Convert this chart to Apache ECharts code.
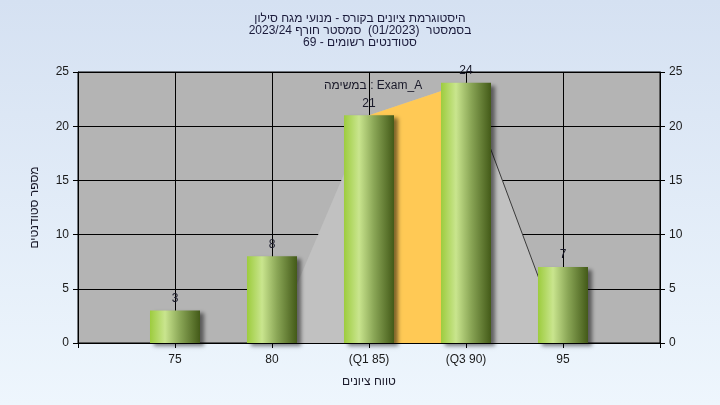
<!DOCTYPE html>
<html>
<head>
<meta charset="utf-8">
<script src="https://cdn.jsdelivr.net/npm/echarts@6/dist/echarts.min.js"></script>
<style>
html,body{margin:0;padding:0;}
#c{width:720px;height:405px;background:linear-gradient(#d5e1f2,#eef6fd);}
</style>
</head>
<body>
<div id="c"></div>
<script>
var titleLines = ['היסטוגרמת ציונים בקורס - מנועי מגח סילון', 'בסמסטר  (01/2023)  סמסטר חורף 2023/24', 'סטודנטים רשומים - 69'];
var legendText = 'במשימה : Exam_A';
var tickValues = [75, 80, 85, 90, 95];
var tickLabels = ['75', '80', '(Q1 85)', '(Q3 90)', '95'];
var counts = [3, 8, 21, 24, 7];
var outlineX = [80, 85, 90, 95];
var outlineY = [0, 21, 24, 0];
var iqrX = [85, 90];
var iqrY = [21, 24];
var yAxisName = 'מספר סטודנטים';
var xAxisName = 'טווח ציונים';

var FONT = 'Arial, "Liberation Sans", sans-serif';
var chart = echarts.init(document.getElementById('c'));

var barData = tickValues.map(function (v, i) { return [v, counts[i]]; });
var outline = outlineX.map(function (v, i) { return [v, outlineY[i]]; });
var iqr = iqrX.map(function (v, i) { return [v, iqrY[i]]; });

function yAxis(pos) {
  return {
    type: 'value', position: pos, min: 0, max: 25, interval: 5,
    axisLine: { show: true, lineStyle: { color: '#000' } },
    axisTick: { show: true, length: 5, lineStyle: { color: '#000' } },
    axisLabel: { color: '#1a1a1a', fontSize: 12, fontFamily: FONT, margin: 9 },
    splitLine: { show: pos === 'left', lineStyle: { color: '#000', width: 1 } },
    name: pos === 'left' ? yAxisName : '',
    nameLocation: 'middle', nameRotate: 90, nameGap: 37,
    nameTextStyle: { color: '#1a1a2a', fontSize: 12, fontFamily: FONT }
  };
}

chart.setOption({
  backgroundColor: 'transparent',
  animation: false,
  title: {
    text: titleLines.join('\n'),
    left: 'center', top: 8,
    textStyle: { color: '#1a1a3a', fontSize: 12, fontWeight: 'normal', fontFamily: FONT, lineHeight: 12 }
  },
  grid: { left: 78, right: 60, top: 72, bottom: 62, show: true, backgroundColor: '#b4b4b4', borderColor: '#000', borderWidth: 1 },
  xAxis: {
    type: 'value', min: 70, max: 100, interval: 5,
    axisLine: { show: true, onZero: false, lineStyle: { color: '#000' } },
    axisTick: { show: true, length: 5, lineStyle: { color: '#000' } },
    axisLabel: {
      color: '#1a1a1a', fontSize: 12, fontFamily: FONT, margin: 11,
      showMinLabel: true, showMaxLabel: true,
      formatter: function (v) { var i = tickValues.indexOf(v); return i >= 0 ? tickLabels[i] : ''; }
    },
    splitLine: { show: true, lineStyle: { color: '#000', width: 1 } },
    name: xAxisName, nameLocation: 'middle', nameGap: 33,
    nameTextStyle: { color: '#1a1a2a', fontSize: 12, fontFamily: FONT }
  },
  yAxis: [yAxis('left'), yAxis('right')],
  graphic: [{
    type: 'text', left: 324, top: 80,
    style: { text: legendText, fill: '#1a1a2a', font: '12px ' + FONT }
  }],
  series: [
    {
      type: 'line', data: outline, symbol: 'none', z: 2,
      lineStyle: { width: 0 }, areaStyle: { color: '#c1c1c1', opacity: 1 }
    },
    {
      type: 'line', data: iqr, symbol: 'none', z: 2,
      lineStyle: { width: 0 }, areaStyle: { color: '#ffc955', opacity: 1 }
    },
    {
      type: 'line', data: outline.slice(2), symbol: 'none', z: 2,
      lineStyle: { width: 1, color: '#3a3a3a' }
    },
    {
      type: 'bar', data: barData, barWidth: 50, z: 3,
      itemStyle: {
        color: new echarts.graphic.LinearGradient(0, 0, 1, 0, [
          { offset: 0, color: '#9dcc3e' },
          { offset: 0.3, color: '#c9e58e' },
          { offset: 0.6, color: '#8aa656' },
          { offset: 1, color: '#435a18' }
        ]),
        shadowColor: 'rgba(0,0,0,0.5)', shadowBlur: 4, shadowOffsetX: 4, shadowOffsetY: 3
      },
      label: { show: true, position: 'top', distance: 6, color: '#1a1a2a', fontSize: 12, fontFamily: FONT }
    }
  ]
});
</script>
</body>
</html>
